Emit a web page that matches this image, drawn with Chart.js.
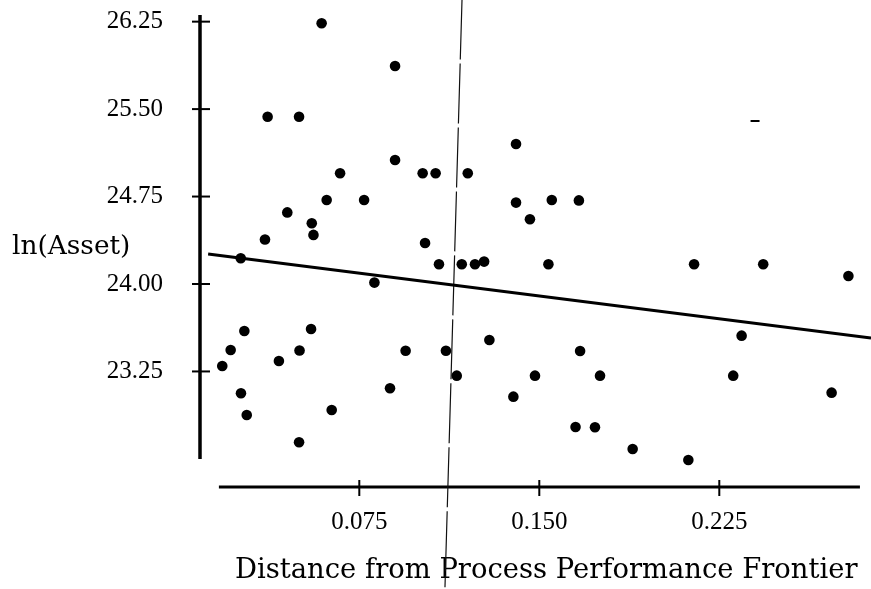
<!DOCTYPE html>
<html>
<head>
<meta charset="utf-8">
<title>ln(Asset) vs Distance from Process Performance Frontier</title>
<script src="https://cdn.jsdelivr.net/npm/chart.js@4.4.1/dist/chart.umd.min.js"></script>
<style>
  html, body { margin: 0; padding: 0; background: #fff; }
  canvas { display: block; }
</style>
</head>
<body>
<canvas id="myChart" width="871" height="589"></canvas>
<script>
// one dot per firm: distance from the frontier and ln(Asset)
const distance = [
  0.0179, 0.0214, 0.0256, 0.0271, 0.0257, 0.0281, 0.0357, 0.0368, 0.0415, 0.0450,
  0.0499, 0.0501, 0.0499, 0.0552, 0.0559, 0.0549, 0.0593, 0.0614, 0.0635, 0.0670,
  0.0770, 0.0813, 0.0878, 0.0899, 0.0899, 0.0943, 0.1014, 0.1024, 0.1068, 0.1082,
  0.1111, 0.1156, 0.1177, 0.1202, 0.1232, 0.1270, 0.1292, 0.1392, 0.1403, 0.1403,
  0.1461, 0.1482, 0.1538, 0.1552, 0.1651, 0.1670, 0.1665, 0.1732, 0.1753, 0.1889,
  0.2121, 0.2145, 0.2308, 0.2343, 0.2433, 0.2718, 0.2788
];
const lnAsset = [
  23.297, 23.434, 24.221, 23.597, 23.063, 22.877, 24.382, 25.435, 23.340, 24.614,
  25.435, 23.430, 22.643, 24.521, 24.421, 23.614, 26.236, 24.721, 22.920, 24.950,
  24.721, 24.012, 23.106, 25.870, 25.064, 23.428, 24.950, 24.352, 24.950, 24.169,
  23.428, 23.214, 24.169, 24.950, 24.169, 24.192, 23.520, 23.034, 25.201, 24.698,
  24.555, 23.214, 24.169, 24.721, 22.774, 23.426, 24.717, 22.771, 23.214, 22.585,
  22.491, 24.169, 23.214, 23.557, 24.169, 23.068, 24.069
];

// fitted line, read at both ends
const fitX = [0.0120, 0.2882];
const fitY = [24.258, 23.537];

// thin vertical line (a little skewed in the scan)
const refX = [0.1178, 0.1107];
const refY = [26.44, 21.40];

// stray dash in the upper right
const dashX = [0.2399];
const dashY = [25.398];

const xTicks = [0.075, 0.150, 0.225];
const yTicks = [23.25, 24.00, 24.75, 25.50, 26.25];

const pairs = (xs, ys) => xs.map((x, i) => ({ x: x, y: ys[i] }));

const serif = '"DejaVu Serif", serif';
const tickFont = { family: '"Liberation Serif", serif', size: 25 };

// hand drawn looking axes: y line stops short, x line sits apart
const axesPlugin = {
  id: 'axes',
  beforeDatasetsDraw(chart) {
    const { ctx, chartArea, scales } = chart;
    const xs = scales.x, ys = scales.y;
    ctx.save();
    ctx.strokeStyle = '#000';
    ctx.lineCap = 'butt';

    // y axis
    const ax = chartArea.left;
    ctx.lineWidth = 3.5;
    ctx.beginPath();
    ctx.moveTo(ax, chartArea.top);
    ctx.lineTo(ax, ys.getPixelForValue(22.5));
    ctx.stroke();
    ctx.lineWidth = 2;
    yTicks.forEach(v => {
      const py = ys.getPixelForValue(v);
      ctx.beginPath();
      ctx.moveTo(ax - 8, py);
      ctx.lineTo(ax + 10, py);
      ctx.stroke();
    });

    // x axis
    const ay = chartArea.bottom;
    ctx.lineWidth = 3;
    ctx.beginPath();
    ctx.moveTo(xs.getPixelForValue(0.0165), ay);
    ctx.lineTo(xs.getPixelForValue(0.2836), ay);
    ctx.stroke();
    ctx.lineWidth = 2;
    xTicks.forEach(v => {
      const px = xs.getPixelForValue(v);
      ctx.beginPath();
      ctx.moveTo(px, ay - 7);
      ctx.lineTo(px, ay + 9);
      ctx.stroke();
    });

    // titles
    ctx.fillStyle = '#000';
    ctx.textBaseline = 'alphabetic';
    ctx.font = '26.4px ' + serif;
    ctx.textAlign = 'left';
    ctx.fillText('ln(Asset)', 12, 254);
    ctx.font = '27.4px ' + serif;
    ctx.fillText('Distance from Process Performance Frontier', 235, 578);
    ctx.restore();
  }
};

new Chart(document.getElementById('myChart').getContext('2d'), {
  data: {
    datasets: [
      {
        type: 'line',
        label: 'reference',
        data: pairs(refX, refY),
        borderColor: '#111',
        borderWidth: 1.2,
        borderDash: [60, 4],
        pointRadius: 0,
        clip: false,
        order: 3
      },
      {
        type: 'line',
        label: 'fit',
        data: pairs(fitX, fitY),
        borderColor: '#000',
        borderWidth: 3,
        pointRadius: 0,
        clip: false,
        order: 2
      },
      {
        type: 'scatter',
        label: 'dash',
        data: pairs(dashX, dashY),
        pointStyle: 'line',
        pointRadius: 4.5,
        borderColor: '#000',
        borderWidth: 2,
        order: 1
      },
      {
        type: 'scatter',
        label: 'ln(Asset)',
        data: pairs(distance, lnAsset),
        backgroundColor: '#000',
        borderWidth: 0,
        pointRadius: 5.3,
        order: 0
      }
    ]
  },
  options: {
    responsive: false,
    animation: false,
    layout: { autoPadding: false, padding: { top: 15, left: 0, right: 0, bottom: 0 } },
    plugins: { legend: { display: false }, tooltip: { enabled: false } },
    scales: {
      x: {
        type: 'linear',
        min: 0.008625,
        max: 0.28821,
        border: { display: false },
        grid: { drawOnChartArea: false, drawTicks: true, tickLength: 20, color: 'rgba(0,0,0,0)' },
        ticks: { padding: 0, color: '#000', font: tickFont, maxRotation: 0, callback: v => v.toFixed(3) },
        afterBuildTicks: s => { s.ticks = xTicks.map(v => ({ value: v })); },
        afterFit: s => { s.height = 102; s.paddingLeft = 0; s.paddingRight = 0; }
      },
      y: {
        type: 'linear',
        min: 22.259,
        max: 26.307,
        border: { display: false },
        grid: { drawOnChartArea: false, drawTicks: true, tickLength: 37, color: 'rgba(0,0,0,0)' },
        ticks: { padding: 0, color: '#000', font: tickFont, callback: v => v.toFixed(2) },
        afterBuildTicks: s => { s.ticks = yTicks.map(v => ({ value: v })); },
        afterFit: s => { s.width = 200; s.paddingTop = 0; s.paddingBottom = 0; }
      }
    }
  },
  plugins: [axesPlugin]
});
</script>
</body>
</html>
